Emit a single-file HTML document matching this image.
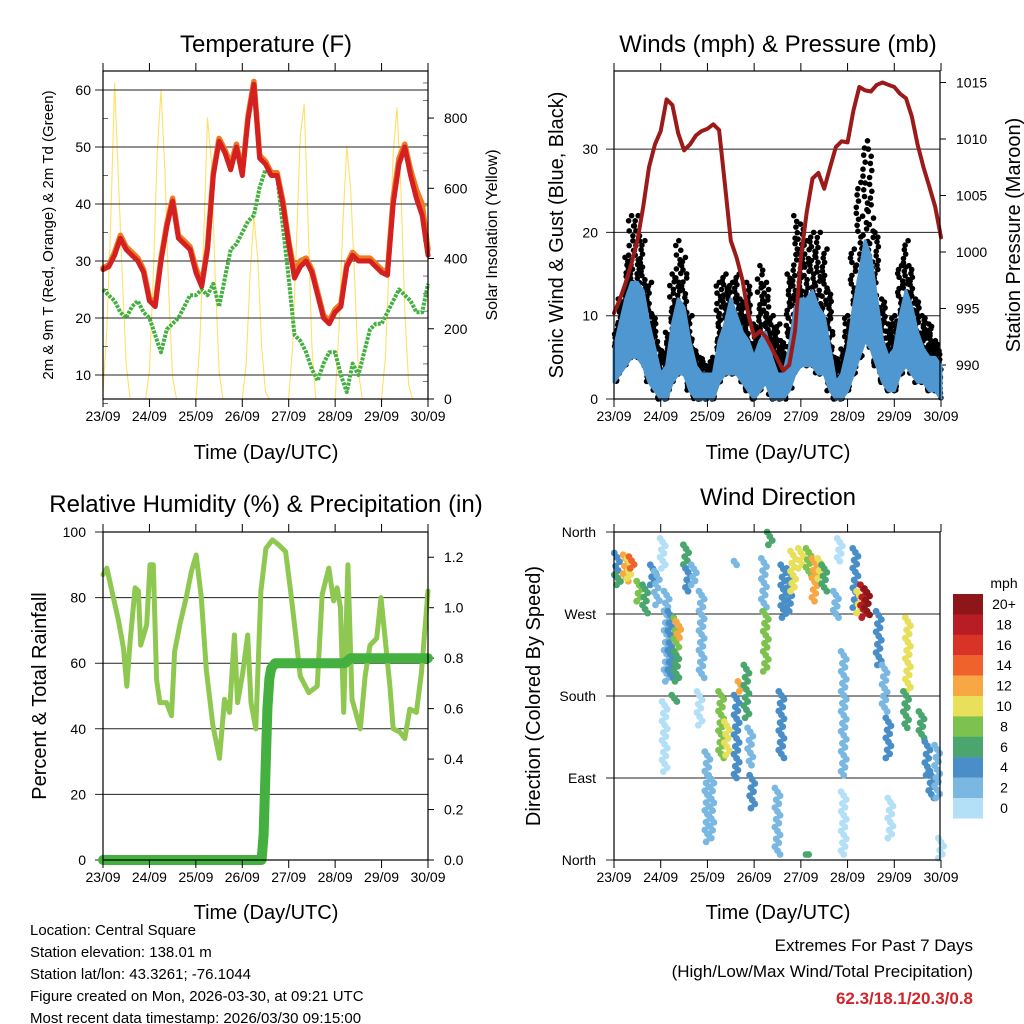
<!DOCTYPE html>
<html><head><meta charset="utf-8"><style>
html,body{margin:0;padding:0;background:#fff;}
svg{display:block;font-family:"Liberation Sans",Arial,sans-serif;}
</style></head><body>
<svg id="root" width="1024" height="1024" viewBox="0 0 1024 1024" xmlns="http://www.w3.org/2000/svg">
<rect width="1024" height="1024" fill="#fff"/>
<g font-size="24" text-anchor="middle" fill="#000">
<text x="266" y="52">Temperature (F)</text>
<text x="778" y="52">Winds (mph) &amp; Pressure (mb)</text>
<text x="266" y="512">Relative Humidity (%) &amp; Precipitation (in)</text>
<text x="778" y="505">Wind Direction</text>
</g>
<g font-size="20" text-anchor="middle">
<text x="266" y="459">Time (Day/UTC)</text>
<text x="778" y="459">Time (Day/UTC)</text>
<text x="266" y="919">Time (Day/UTC)</text>
<text x="778" y="919">Time (Day/UTC)</text>
<text transform="translate(53,235) rotate(-90)" font-size="15">2m &amp; 9m T (Red, Orange) &amp; 2m Td (Green)</text>
<text transform="translate(497,235) rotate(-90)" font-size="16">Solar Insolation (Yellow)</text>
<text transform="translate(563,235) rotate(-90)">Sonic Wind &amp; Gust (Blue, Black)</text>
<text transform="translate(1020,235) rotate(-90)">Station Pressure (Maroon)</text>
<text transform="translate(46,696) rotate(-90)">Percent &amp; Total Rainfall</text>
<text transform="translate(540,696) rotate(-90)">Direction (Colored By Speed)</text>
</g>
<g font-size="15">
<text x="30" y="935">Location: Central Square</text>
<text x="30" y="957">Station elevation: 138.01 m</text>
<text x="30" y="979">Station lat/lon: 43.3261; -76.1044</text>
<text x="30" y="1001">Figure created on Mon, 2026-03-30, at 09:21 UTC</text>
<text x="30" y="1023">Most recent data timestamp: 2026/03/30 09:15:00</text>
</g>
<g font-size="17" text-anchor="end">
<text x="973" y="951">Extremes For Past 7 Days</text>
<text x="973" y="977">(High/Low/Max Wind/Total Precipitation)</text>
<text x="973" y="1004" font-weight="bold" fill="#d0252a">62.3/18.1/20.3/0.8</text>
</g>
<g id="plots"></g>
</svg>
<script>
const dayLabels = ["23/09","24/09","25/09","26/09","27/09","28/09","29/09","30/09"];
const tempHours3 = 3;
const temp2m = [28.5,29,31,34,32,31,30,28,23,22,30,36,40.5,34,33,32,28,25.5,32,45,51,49,46,50,45,55,61,48,47,45,45,40,33,27,29,30,28,24,20,19,21,22,29,31,30,30,30,29,28,27.5,40,47,50,45,41,38,31];
const temp9m = [28.8,29.3,31.5,34.5,32.5,31.5,30.5,28.5,23.5,22.5,30.5,36.5,41,34.5,33.5,32.5,28.8,26,32.5,45.5,51.5,49.5,47,50.5,45.5,55.5,61.5,48.5,47.5,45.5,45.5,40.5,33.5,28,30,30.5,28.5,24.5,20.5,19.5,21.5,22.5,29.5,31.5,30.5,30.5,30.5,29.5,28.5,28,41,48,50.5,46,42.5,40,32];
const dewpoint = [25,24,23,21,20,22,23,21,20,17,14,18,19,20,22,24,24,25,24,26,22,27,32,33,35,37,38,43,46,45,45,36,27,17,16,14,11,9,12,14,14,10,7,12,10,14,18,19,19,21,23,25,24,23,21,21,26];
const solarStep = 2;
const solar = [20,200,500,900,620,350,100,0,0,0,0,0, 80,350,700,880,650,300,60,0,0,0,0,0, 0,150,450,800,680,350,80,0,0,0,0,0, 0,100,350,520,400,150,20,0,0,0,0,0, 0,150,450,750,840,500,150,0,0,0,0,0, 0,200,500,720,600,350,80,0,0,0,0,0, 0,120,400,700,830,600,250,40,0,0,0,0,0];
const pressure = [994.6,995.8,997.3,999,1001,1004,1007.5,1009.5,1010.7,1013.5,1013,1010.5,1009,1009.5,1010.3,1010.7,1010.9,1011.3,1010.8,1006,1001,999.5,997.5,994.5,992.5,993,992.5,991.5,990.5,989.5,990,993,999.5,1003.5,1006.5,1007,1005.6,1007.5,1009.3,1009.8,1009.7,1012.5,1014.6,1014.3,1014.2,1014.8,1015,1014.8,1014.6,1014,1013.6,1012,1009.5,1007.5,1005.8,1004,1001.3];
const windLo = [2,3,4,5,5,4,2,1,0,0,2,3,3,1,0,0,0,0,2,3,3,3,2,1,0,1,2,0,0,0,1,3,4,4,4,3,3,1,0,0,1,3,5,7,6,4,2,1,1,3,4,3,2,2,1,1,0];
const windHi = [6,9,12,14,14,13,9,6,3,4,9,12,11,7,4,3,3,3,7,9,12,10,8,7,5,7,8,5,3,3,6,11,12,12,13,11,10,6,2,3,6,11,15,19,17,12,7,5,6,10,13,11,8,6,5,5,4];
const windGust = [8,12,17,22,22,19,14,10,6,8,15,19,17,10,6,5,4,5,14,15,14,15,12,14,9,16,14,10,9,7,15,22,21,19,20,20,18,13,5,6,10,18,26,31,30,20,12,9,10,16,19,16,12,10,9,7,6];
const rhHours = [0,2,4.6,8,10.6,12.3,14,16.6,18.3,19.5,22.6,24.3,26,27.7,29.4,32.8,35.4,37,39.7,43,45.7,48.2,50.8,53.4,56.8,60.2,62.8,65.4,67.9,69.6,72.2,74.8,76.5,79,81.6,84.2,87.6,91,94.4,97,99.6,102,106.4,110.7,113.3,116.7,119.2,121,122.7,124.4,126.6,128.7,133,135.5,138,141.5,143.7,145.8,148.3,150,153.5,156,158.6,162,164.6,168];
const rhValues = [87,89,82,73,64.5,53,66.6,83,82,65.5,71.7,90,90,55,48,48,44,63.5,71.7,80,88,93,80,58,41,31,49,45,68.6,48,57,68.6,48,40,82,95,97.6,96,94,82,68.6,56,51,53,81,89,79,83,77,45,90,49,40,56,65.5,67.6,80,67.6,53,40,39,37,46,45,57,82];
const precipHours = [0,82,83,84,85,86,87,89,125,128,168];
const precipValues = [0,0,0.1,0.35,0.6,0.72,0.76,0.78,0.78,0.8,0.8];
const dirHour  = [1.5,2,6,8,9,13,16,20,22,25,27,29,32,33,32,31,37,38,41,45,44,26,48,50,55,58,63,63,65,68,70,71,77,80,78,84,86,87,90,92,96,100,103,106,108,114,116,118,118,124,126,128,130,136,139,141,142,151,150,158,161,163,166,168,100];
const dirFrom  = [337,313,335,331,333,306,302,324,317,353,295,273,266,262,229,181,346,320,324,295,185,174,119,93,185,152,328,181,196,214,145,93,331,360,273,79,185,324,320,339,342,342,331,331,324,295,353,229,75,342,295,302,298,273,214,156,68,266,185,163,130,97,126,24,6];
const dirTo    = [313,302,306,309,320,284,271,302,280,320,196,200,229,244,196,174,320,295,302,200,148,97,20,24,112,115,324,90,185,156,104,57,273,346,207,6,112,266,273,295,320,313,284,309,295,266,328,93,6,277,271,266,269,214,163,112,24,185,145,134,93,68,68,2,6];
const dirSpeed = [4,6,12,10,15,9,6,5,2,1,2,4,9,12,7,6,6,4,3,2,1,1,2,3,8,10,3,4,12,7,3,4,2,6,8,2,4,4,5,10,11,9,12,10,6,2,1,2,1,4,11,18,20,4,3,4,1,10,7,6,4,4,3,1,6];
const cbLabels = ["20+","18","16","14","12","10","8","6","4","2","0"];
const cbColors = ["#8e1619","#b81c24","#d93226","#f0622c","#f7a844","#e8e05a","#7dc24e","#4aa66e","#4a8ec8","#7ab8e2","#b3e0f6"];
const tempTicks = [10,20,30,40,50,60];
const solarTicks = [0,200,400,600,800];
const windTicks = [0,10,20,30];
const pressTicks = [990,995,1000,1005,1010,1015];
const rhTicks = [0,20,40,60,80,100];
const precipTicks = [0,0.2,0.4,0.6,0.8,1.0,1.2];
const dirTicks = [0,90,180,270,360];
const dirNames = ["North","East","South","West","North"];

const NS = "http://www.w3.org/2000/svg";
const plots = document.getElementById("plots");
const xL = h => 103 + h * 325 / 168;
const xRt = h => 614 + h * 327 / 168;
const yT = v => 375 - (v - 10) * 5.7;
const ySol = s => 399 - s * 0.3512;
const yW = v => 399 - v * 8.33;
const yP = p => 365 - (p - 990) * 11.3;
const yR = v => 860 - v * 3.28;
const yPr = p => 860 - p * 252.3;
const yD = d => 860 - d * 0.9111;

function mk(tag, attrs, parent) {
  const el = document.createElementNS(NS, tag);
  for (const k in attrs) el.setAttribute(k, attrs[k]);
  (parent || plots).appendChild(el);
  return el;
}
function poly(pts, color, w, name, extra) {
  const el = mk("polyline", Object.assign({points: pts.map(p => p[0].toFixed(1) + "," + p[1].toFixed(1)).join(" "), fill: "none", stroke: color, "stroke-width": w, "stroke-linejoin": "round", "stroke-linecap": "round"}, extra || {}));
  
  
  return el;
}
function txt(x, y, s, anchor, size, name) {
  const el = mk("text", {x: x, y: y, "text-anchor": anchor, "font-size": size});
  el.textContent = s;
  
  
  return el;
}
function ln(x1, y1, x2, y2, color, w, name) {
  const el = mk("line", {x1: x1, y1: y1, x2: x2, y2: y2, stroke: color, "stroke-width": w});
  
  
  return el;
}
function frame(x0, x1, y0, y1, xf, prefix) {
  for (let d = 0; d < dayLabels.length; d++) {
    const x = xf(d * 24);
    ln(x, y0 - 8, x, y0, "#000", 1, prefix + "-top-tick");
    ln(x, y1, x, y1 + 8, "#000", 1, prefix + "-bottom-tick");
    txt(x, y1 + 22, dayLabels[d], "middle", 14, prefix + "-x-tick-label");
  }
  const r = mk("rect", {x: x0, y: y0, width: x1 - x0, height: y1 - y0, fill: "none", stroke: "#000", "stroke-width": 1.2});
  
  
}

// Panel 1
poly(solar.map((s, i) => [xL(i * solarStep), ySol(s)]), "#ffe066", 1.1, "solar-insolation-line");
tempTicks.forEach(t => { ln(95, yT(t), 428, yT(t), "#222", 1, "temp-gridline"); txt(91, yT(t) + 5, String(t), "end", 14, "temp-y-tick-label"); });
for (let t = 10; t <= 60; t += 10) ln(103, yT(t - 5), 108, yT(t - 5), "#666", 1, "temp-minor-tick");
solarTicks.forEach(s => { ln(428, ySol(s), 434, ySol(s), "#000", 1, "solar-tick"); txt(444, ySol(s) + 5, String(s), "start", 14, "solar-y-tick-label"); });
for (let s = 50; s < 930; s += 50) if (s % 200) ln(423, ySol(s), 428, ySol(s), "#777", 1, "solar-minor-tick");
poly(dewpoint.map((v, i) => [xL(i * tempHours3), yT(v)]), "#44b040", 4, "dewpoint-line", {"stroke-dasharray": "3 1.2", "stroke-linecap": "butt"});
poly(temp9m.map((v, i) => [xL(i * tempHours3), yT(v)]), "#f07a20", 5.5, "temp-9m-line");
poly(temp2m.map((v, i) => [xL(i * tempHours3), yT(v)]), "#d42020", 5, "temp-2m-line");
frame(103, 428, 71, 399, xL, "temp");

// Panel 2
windTicks.forEach(v => { ln(606, yW(v), 940, yW(v), "#222", 1, "wind-gridline"); txt(598, yW(v) + 5, String(v), "end", 14, "wind-y-tick-label"); });
pressTicks.forEach(p => { ln(940, yP(p), 946, yP(p), "#000", 1, "pressure-tick"); txt(956, yP(p) + 5, String(p), "start", 14, "pressure-y-tick-label"); });
windGust.forEach((g, i) => {
  const n = 37;
  for (let k = 0; k < n; k++) {
    const f = k / (n - 1);
    const hx = i * 3 + (((k * k * 7 + k * 3 + i * 5) % 37) / 37 - 0.5) * 3;
    if (hx < 0 || hx > 168) continue;
    const j = Math.min(windGust.length - 1, Math.max(0, Math.round(hx / 3)));
    const lo = windLo[i], top = (g + windGust[j]) / 2;
    const v = lo + (top - lo) * Math.pow(f, 1.3);
    const c = mk("circle", {cx: xRt(hx).toFixed(1), cy: yW(v).toFixed(1), r: 2.8, fill: "#000"});
    
    
  }
});
{
  const up = windHi.map((v, i) => xRt(i * 3).toFixed(1) + "," + yW(v).toFixed(1));
  const dn = windLo.map((v, i) => xRt(i * 3).toFixed(1) + "," + yW(v).toFixed(1)).reverse();
  const band = mk("polygon", {points: up.concat(dn).join(" "), fill: "#4f97d0", stroke: "#4f97d0", "stroke-width": 3, "stroke-linejoin": "round"});
  
  
}
poly(pressure.map((p, i) => [xRt(i * 3), yP(p)]), "#9b1b1b", 4, "pressure-line");
frame(614, 940, 71, 399, xRt, "wind");

// Panel 3
rhTicks.forEach(v => { ln(95, yR(v), 428, yR(v), "#222", 1, "rh-gridline"); txt(86, yR(v) + 5, String(v), "end", 14, "rh-y-tick-label"); });
precipTicks.forEach(p => { ln(428, yPr(p), 434, yPr(p), "#000", 1, "precip-tick"); txt(444, yPr(p) + 5, p.toFixed(1), "start", 14, "precip-y-tick-label"); });
poly(rhHours.map((h, i) => [xL(h), yR(rhValues[i])]), "#8ec850", 5, "relative-humidity-line");
poly(precipHours.map((h, i) => [xL(h), yPr(precipValues[i])]), "#44b040", 10, "precipitation-line");
frame(103, 428, 532, 860, xL, "rh");

// Panel 4
dirTicks.forEach((d, i) => { ln(606, yD(d), 940, yD(d), "#222", 1, "dir-gridline"); txt(596, yD(d) + 5, dirNames[i], "end", 14, "dir-y-tick-label"); });
function spColor(s) { const b = Math.min(10, Math.floor(s / 2)); return cbColors[10 - b]; }
dirHour.forEach((h, i) => {
  const a = dirFrom[i], b = dirTo[i];
  const n = Math.max(1, Math.round(Math.abs(yD(a) - yD(b)) / 4));
  for (let k = 0; k <= n; k++) {
    const d = a + (b - a) * k / n;
    const dx = ((k * 7) % 5 - 2) * 1.3;
    const c = mk("circle", {cx: (xRt(h) + dx).toFixed(1), cy: yD(d).toFixed(1), r: 3.4, fill: spColor(dirSpeed[i])});
    
    
  }
});
frame(614, 940, 532, 860, xRt, "dir");
txt(1004, 588, "mph", "middle", 14, "colorbar-unit");
cbLabels.forEach((l, i) => {
  const r = mk("rect", {x: 953, y: 594 + i * 20.4, width: 30, height: 20.6, fill: cbColors[i]});
  
  
  txt(1004, 594 + i * 20.4 + 15, l, "middle", 14, "colorbar-label");
});
</script>
</body></html>
